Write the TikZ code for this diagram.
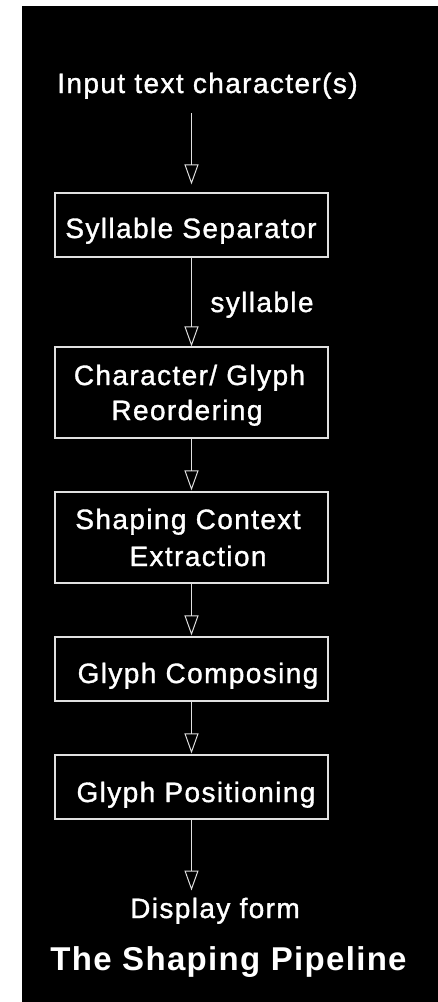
\documentclass[tikz,border=0pt]{standalone}
\usepackage{fontspec}
\usetikzlibrary{arrows.meta,calc}
\newfontfamily\labfont[LetterSpace=5,FakeBold=1.2]{Liberation Sans}
\newfontfamily\ttlfont[LetterSpace=4]{Liberation Sans}
\definecolor{ln}{gray}{0.88}
\tikzset{
  lab/.style={text=white,inner sep=0pt,anchor=base,font=\labfont\fontsize{28}{30}\selectfont},
  ttl/.style={text=white,inner sep=0pt,anchor=base,font=\ttlfont\bfseries\fontsize{33}{36}\selectfont},
  stepbox/.style={draw=ln,line width=1.1pt,minimum width=273pt,inner sep=0pt},
  flow/.style={draw=ln,line width=1pt,-{Triangle[open,length=20pt,width=14pt,line width=1pt]}}
}
\begin{document}
\begin{tikzpicture}[x=1pt,y=-1pt]
\useasboundingbox (0,0) rectangle (438,1002);
\fill[white] (0,0) rectangle (438,1002);
\fill[black] (22,6) rectangle (438,1002);
% boxes
\node[stepbox,minimum height=64pt] (s1) at (191.5,225) {};
\node[stepbox,minimum height=91pt] (s2) at (191.5,392.5) {};
\node[stepbox,minimum height=91pt] (s3) at (191.5,537.5) {};
\node[stepbox,minimum height=64pt] (s4) at (191.5,669) {};
\node[stepbox,minimum height=64pt] (s5) at (191.5,787) {};
% texts
\node[lab] (in) at (207.5,93) {Input text character(s)};
\node[lab] (t1) at (191,238) {Syllable Separator};
\node[lab] (lsy) at (262,312) {syllable};
\node[lab] (t2a) at (189.5,385) {Character/ Glyph};
\node[lab] (t2b) at (187,420) {Reordering};
\node[lab] (t3a) at (188,529) {Shaping Context};
\node[lab] (t3b) at (198,566) {Extraction};
\node[lab] (t4) at (198,683) {Glyph Composing};
\node[lab] (t5) at (196,802) {Glyph Positioning};
\node[lab] (out) at (215,918) {Display form};
\node[ttl] (title) at (228.5,970) {The Shaping Pipeline};
% connectors
\draw[flow,shorten <=14pt,shorten >=8pt] (s1.north |- in.south) -- (s1.north);
\draw[flow] (s1.south) -- (s2.north);
\draw[flow,shorten >=1pt] (s2.south) -- (s3.north);
\draw[flow,shorten >=1pt] (s3.south) -- (s4.north);
\draw[flow,shorten >=1pt] (s4.south) -- (s5.north);
\draw[flow,shorten >=7pt] (s5.south) -- (s5.south |- out.north);
\end{tikzpicture}
\end{document}
